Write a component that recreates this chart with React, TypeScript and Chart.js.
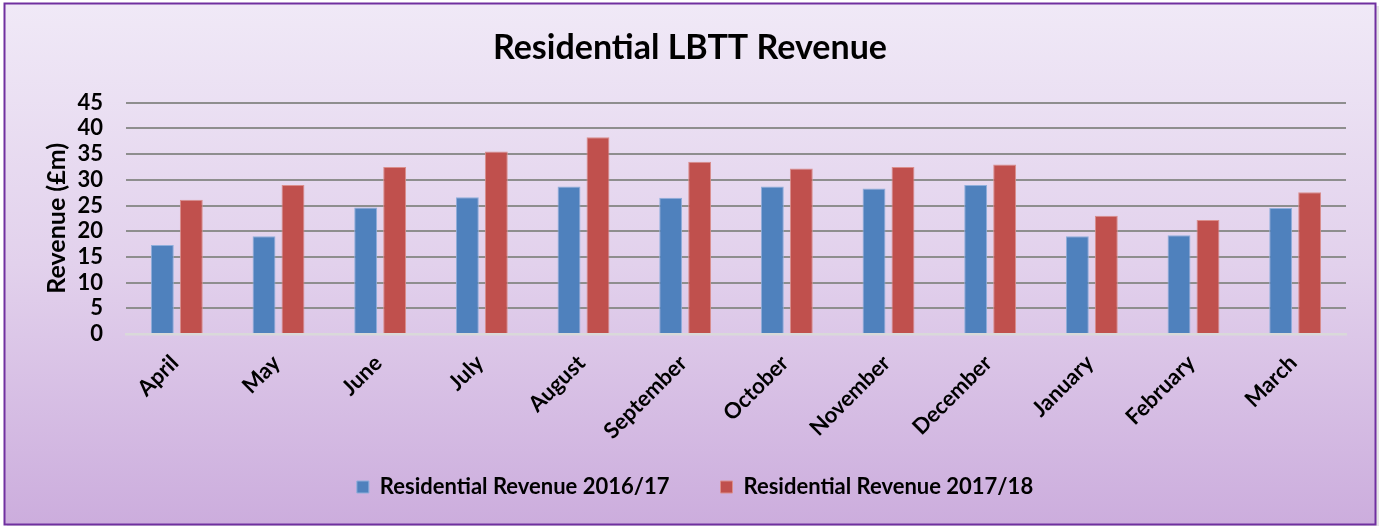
import React, { useEffect, useRef } from 'react';
import { Chart, registerables } from 'chart.js';

Chart.register(...registerables);

// ---- Data ----
const categories = ['April', 'May', 'June', 'July', 'August', 'September', 'October', 'November', 'December', 'January', 'February', 'March'];
const revenue2016_17 = [17.3, 19.0, 24.6, 26.6, 28.7, 26.5, 28.7, 28.3, 29.0, 19.0, 19.2, 24.5];
const revenue2017_18 = [26.1, 29.0, 32.5, 35.5, 38.3, 33.5, 32.2, 32.5, 33.0, 23.0, 22.2, 27.6];
const seriesLabels = ['Residential Revenue 2016/17', 'Residential Revenue 2017/18'];
const yMin = 0;
const yMax = 45;
const yStep = 5;
const chartTitle = 'Residential LBTT Revenue';
const yAxisTitle = 'Revenue (£m)';

// ---- Style ----
const FONT = 'Lato';
const W = 1383;
const H = 526;
const PLOT_BOTTOM = 334;
const LEGEND_FONT = 22;
const LEGEND_PAD = 51;
const LEGEND_BOX = 12;
const LEGEND_HEIGHT = Math.max(LEGEND_FONT, LEGEND_BOX) + LEGEND_PAD + 10;
const X_AXIS_HEIGHT = H - PLOT_BOTTOM - LEGEND_HEIGHT;

const backgroundPlugin = {
  id: 'bgFrame',
  beforeDraw(chart: any) {
    const { ctx, width, height } = chart;
    ctx.save();
    ctx.fillStyle = '#ffffff';
    ctx.fillRect(0, 0, width, height);
    ctx.fillStyle = 'rgba(0,0,0,0.10)';
    ctx.fillRect(7, 6, 1372, 520);
    const g = ctx.createLinearGradient(0, 4, 0, 524);
    g.addColorStop(0, '#F0E9F7');
    g.addColorStop(0.5, '#E2D1EC');
    g.addColorStop(1, '#CCADDD');
    ctx.fillStyle = g;
    ctx.fillRect(5, 4, 1370, 520);
    ctx.strokeStyle = '#7030A0';
    ctx.lineWidth = 2;
    ctx.strokeRect(4.5, 3.5, 1371, 521);
    ctx.restore();
  },
};

const boxShiftPlugin = {
  id: 'boxShift',
  afterLayout(chart: any) {
    const lg = chart.legend;
    if (lg) {
      const itemH = Math.max(LEGEND_FONT, LEGEND_BOX);
      const dx = 695 - (lg.left + lg.right) / 2;
      const dy = 487 - (lg.top + LEGEND_PAD + itemH / 2);
      lg.left += dx;
      lg.right += dx;
      lg.top += dy;
      lg.bottom += dy;
    }
    const tb = chart.titleBlock;
    if (tb) {
      const dx = 690 - (tb.left + tb.right) / 2;
      tb.left += dx;
      tb.right += dx;
    }
  },
};

export default function App() {
  const canvasRef = useRef<HTMLCanvasElement | null>(null);

  useEffect(() => {
    const canvas = canvasRef.current;
    if (!canvas) return;
    const chart = new Chart(canvas, {
      type: 'bar',
      data: {
        labels: categories,
        datasets: [
          {
            label: seriesLabels[0],
            data: revenue2016_17,
            backgroundColor: '#4F81BD',
            borderColor: '#8FAEDB',
            borderWidth: 1,
            categoryPercentage: 0.57,
            barPercentage: 0.79,
          },
          {
            label: seriesLabels[1],
            data: revenue2017_18,
            backgroundColor: '#C0504D',
            borderColor: '#DA8E8C',
            borderWidth: 1,
            categoryPercentage: 0.57,
            barPercentage: 0.79,
          },
        ],
      },
      options: {
        responsive: false,
        animation: false,
        layout: { padding: { left: 0, right: 37, top: 0, bottom: 0 } },
        plugins: {
          title: {
            display: true,
            text: chartTitle,
            color: '#000000',
            font: { family: FONT, size: 34, weight: 'bold' },
            padding: { top: 27.5, bottom: 34.4 },
          },
          legend: {
            display: true,
            position: 'bottom',
            labels: {
              color: '#000000',
              font: { family: FONT, size: LEGEND_FONT, weight: 'bold' },
              boxWidth: LEGEND_BOX,
              boxHeight: LEGEND_BOX,
              padding: LEGEND_PAD,
            },
          },
          tooltip: { enabled: false },
        },
        scales: {
          x: {
            grid: { display: false },
            border: { display: true, color: '#D9D9D9', width: 2.5 },
            ticks: {
              color: '#000000',
              font: { family: FONT, size: 22, weight: 'bold' },
              minRotation: 45,
              maxRotation: 45,
              padding: 8,
              labelOffset: -2,
              autoSkip: false,
            },
            afterFit: (scale: any) => {
              scale.height = X_AXIS_HEIGHT;
            },
          },
          y: {
            min: yMin,
            max: yMax,
            grid: {
              drawTicks: false,
              lineWidth: 2,
              color: (ctx: any) => (ctx.tick && ctx.tick.value === 0 ? 'rgba(0,0,0,0)' : '#8E8E8E'),
            },
            border: { display: false },
            ticks: {
              stepSize: yStep,
              autoSkip: false,
              color: '#000000',
              font: { family: FONT, size: 22, weight: 'bold' },
              padding: 23,
            },
            title: {
              display: true,
              text: yAxisTitle,
              color: '#000000',
              font: { family: FONT, size: 25, weight: 'bold' },
              padding: { top: 42, bottom: 0 },
            },
            afterFit: (scale: any) => {
              scale.width = 126;
            },
          },
        },
      },
      plugins: [backgroundPlugin, boxShiftPlugin],
    } as any);

    let alive = true;
    if ((document as any).fonts && (document as any).fonts.load) {
      Promise.all([
        (document as any).fonts.load(`bold 20px ${FONT}`),
        (document as any).fonts.load(`20px ${FONT}`),
      ]).then(() => {
        if (alive) chart.update();
      }).catch(() => {});
    }
    return () => {
      alive = false;
      chart.destroy();
    };
  }, []);

  return (
    <div style={{ position: 'fixed', left: 0, top: 0, width: W, height: H }}>
      <canvas ref={canvasRef} width={W} height={H} style={{ display: 'block', width: W, height: H }} />
    </div>
  );
}
